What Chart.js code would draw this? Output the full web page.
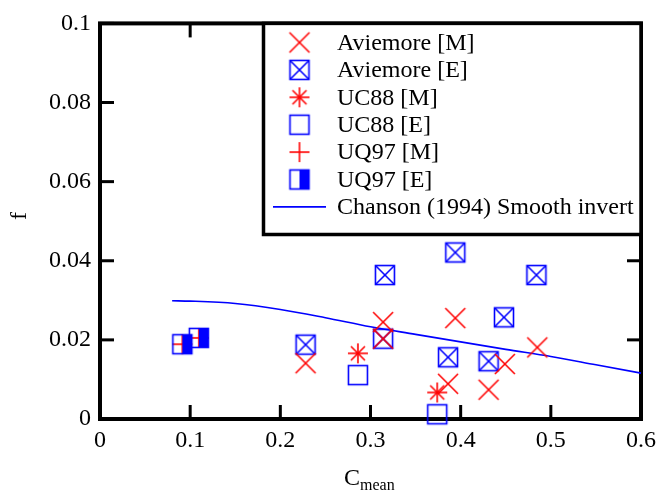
<!DOCTYPE html>
<html><head><meta charset="utf-8">
<script src="https://cdn.jsdelivr.net/npm/chart.js@4/dist/chart.umd.min.js"></script>
<style>html,body{margin:0;padding:0;background:#fff}#wrap{width:663px;height:492px}</style>
</head><body><div id="wrap"><canvas id="c" width="663" height="492"></canvas></div>
<script>
// ---- data ----
const aviemoreM_x = [0.228, 0.314, 0.314, 0.394, 0.485, 0.449, 0.386, 0.431];
const aviemoreM_f = [0.0141, 0.0245, 0.0203, 0.0255, 0.0181, 0.0139, 0.0089, 0.0074];
const aviemoreE_x = [0.394, 0.316, 0.484, 0.448, 0.314, 0.386, 0.431, 0.228];
const aviemoreE_f = [0.0421, 0.0364, 0.0364, 0.0257, 0.0203, 0.0156, 0.0146, 0.0188];
const uc88M_x = [0.286, 0.374];
const uc88M_f = [0.0166, 0.0067];
const uc88E_x = [0.286, 0.374];
const uc88E_f = [0.0111, 0.0012];
const uq97M_x = [0.0913, 0.1096];
const uq97M_f = [0.0189, 0.0205];
const uq97E_x = [0.0913, 0.1096];
const uq97E_f = [0.0189, 0.0205];
const chanson_x = [0.08, 0.10, 0.15, 0.20, 0.25, 0.30, 0.35, 0.40, 0.45, 0.50, 0.55, 0.60];
const chanson_f = [0.0299, 0.0298, 0.0292, 0.0277, 0.0256, 0.0233, 0.0214, 0.0195, 0.0176, 0.0158, 0.0137, 0.0116];
const seriesLabels = ['Aviemore [M]', 'Aviemore [E]', 'UC88 [M]', 'UC88 [E]', 'UQ97 [M]', 'UQ97 [E]', 'Chanson (1994) Smooth invert'];
const xTicks = [0, 0.1, 0.2, 0.3, 0.4, 0.5, 0.6];
const yTicks = [0, 0.02, 0.04, 0.06, 0.08, 0.1];

// ---- markers ----
const RED = '#ff0000', BLUE = '#0000ff';
function mk(fn) {
  const c = document.createElement('canvas'); c.width = 24; c.height = 24;
  const g = c.getContext('2d'); g.lineWidth = 1.6; g.lineCap = 'butt'; fn(g); return c;
}
function line(g, a, b, c, d) { g.beginPath(); g.moveTo(a, b); g.lineTo(c, d); g.stroke(); }
const mX = mk(g => { g.strokeStyle = RED; line(g, 2, 2, 22, 22); line(g, 22, 2, 2, 22); });
const mBoxX = mk(g => { g.strokeStyle = BLUE; g.strokeRect(2.5, 2.5, 19, 19); line(g, 2.5, 2.5, 21.5, 21.5); line(g, 21.5, 2.5, 2.5, 21.5); });
const mStar = mk(g => { g.strokeStyle = RED; line(g, 2, 12, 22, 12); line(g, 12, 2, 12, 22); line(g, 5, 5, 19, 19); line(g, 19, 5, 5, 19); });
const mBox = mk(g => { g.strokeStyle = BLUE; g.strokeRect(2.5, 2.5, 19, 19); });
const mPlus = mk(g => { g.strokeStyle = RED; line(g, 2, 12, 22, 12); line(g, 12, 2, 12, 22); });
const mHalf = mk(g => { g.strokeStyle = BLUE; g.fillStyle = BLUE; g.strokeRect(2.5, 2.5, 19, 19); g.fillRect(12, 2.5, 9.5, 19); });
const markers = [mX, mBoxX, mStar, mBox, mPlus, mHalf];

function pts(xs, ys) { return xs.map((x, i) => ({ x: x, y: ys[i] })); }
function sc(label, xs, ys, m, order) {
  return { type: 'scatter', label: label, data: pts(xs, ys), pointStyle: m, pointRadius: 10, clip: false, order: order, showLine: false };
}

const FONT = 'Liberation Serif, Times New Roman, serif';
const FS = 24;

const decor = {
  id: 'decor',
  beforeDatasetsDraw(chart) {
    const ctx = chart.ctx, a = chart.chartArea, xs = chart.scales.x, ys = chart.scales.y;
    ctx.save();
    ctx.strokeStyle = '#000'; ctx.lineWidth = 3;
    const T = 14;
    xTicks.forEach(v => {
      const p = xs.getPixelForValue(v);
      line(ctx, p, a.bottom, p, a.bottom - T);
      line(ctx, p, a.top, p, a.top + T);
    });
    yTicks.forEach(v => {
      const p = ys.getPixelForValue(v);
      line(ctx, a.left, p, a.left + T, p);
      line(ctx, a.right, p, a.right - T, p);
    });
    ctx.lineWidth = 4;
    ctx.strokeRect(a.left, a.top, a.right - a.left, a.bottom - a.top);
    ctx.restore();
  },
  afterDatasetsDraw(chart) {
    const ctx = chart.ctx, a = chart.chartArea;
    ctx.save();
    // legend
    const L = 263.5, R = a.right, Tp = a.top, B = 234.5;
    ctx.fillStyle = '#fff'; ctx.fillRect(L, Tp, R - L, B - Tp);
    ctx.strokeStyle = '#000'; ctx.lineWidth = 3.5;
    ctx.strokeRect(L, Tp, R - L, B - Tp);
    ctx.font = FS + 'px ' + FONT; ctx.fillStyle = '#000'; ctx.textBaseline = 'middle'; ctx.textAlign = 'left';
    seriesLabels.forEach((lab, i) => {
      const y = 42.5 + 27.4 * i;
      if (i < markers.length) {
        ctx.drawImage(markers[i], 299.5 - 12, y - 12);
      } else {
        ctx.strokeStyle = BLUE; ctx.lineWidth = 1.6; line(ctx, 273, y, 326, y);
      }
      ctx.fillStyle = '#000';
      ctx.fillText(lab, 337, y + 1);
    });
    // axis titles
    ctx.font = FS + 'px ' + FONT; ctx.textBaseline = 'alphabetic';
    ctx.save(); ctx.translate(26, 216); ctx.rotate(-Math.PI / 2); ctx.textAlign = 'center'; ctx.fillText('f', 0, 0); ctx.restore();
    ctx.textAlign = 'left';
    ctx.fillText('C', 344, 485);
    const cw = ctx.measureText('C').width;
    ctx.font = '16px ' + FONT;
    ctx.fillText('mean', 344 + cw, 490);
    ctx.restore();
  }
};

new Chart(document.getElementById('c'), {
  type: 'scatter',
  data: {
    datasets: [
      sc(seriesLabels[0], aviemoreM_x, aviemoreM_f, mX, 2),
      sc(seriesLabels[1], aviemoreE_x, aviemoreE_f, mBoxX, 3),
      sc(seriesLabels[2], uc88M_x, uc88M_f, mStar, 2),
      sc(seriesLabels[3], uc88E_x, uc88E_f, mBox, 3),
      sc(seriesLabels[4], uq97M_x, uq97M_f, mPlus, 3),
      sc(seriesLabels[5], uq97E_x, uq97E_f, mHalf, 1),
      { type: 'scatter', label: seriesLabels[6], data: pts(chanson_x, chanson_f), showLine: true, pointRadius: 0,
        borderColor: BLUE, borderWidth: 1.6, backgroundColor: BLUE, cubicInterpolationMode: 'monotone', clip: false, order: 4 }
    ]
  },
  options: {
    responsive: false, animation: false, devicePixelRatio: 1,
    layout: { padding: { left: 0, right: 21, top: 15, bottom: 0 } },
    plugins: { legend: { display: false }, tooltip: { enabled: false } },
    scales: {
      x: {
        type: 'linear', min: 0, max: 0.6,
        afterBuildTicks: s => { s.ticks = xTicks.map(v => ({ value: v })); },
        afterFit: s => { s.height = 73; },
        grid: { display: false, drawTicks: false }, border: { display: false },
        ticks: { color: '#000', font: { family: FONT, size: FS }, padding: 7, maxRotation: 0,
          callback: v => String(v) }
      },
      y: {
        type: 'linear', min: 0, max: 0.1,
        afterBuildTicks: s => { s.ticks = yTicks.map(v => ({ value: v })); },
        afterFit: s => { s.width = 100; },
        grid: { display: false, drawTicks: false }, border: { display: false },
        ticks: { color: '#000', font: { family: FONT, size: FS }, padding: 9,
          callback: v => String(v) }
      }
    }
  },
  plugins: [decor]
});
</script>
</body></html>
